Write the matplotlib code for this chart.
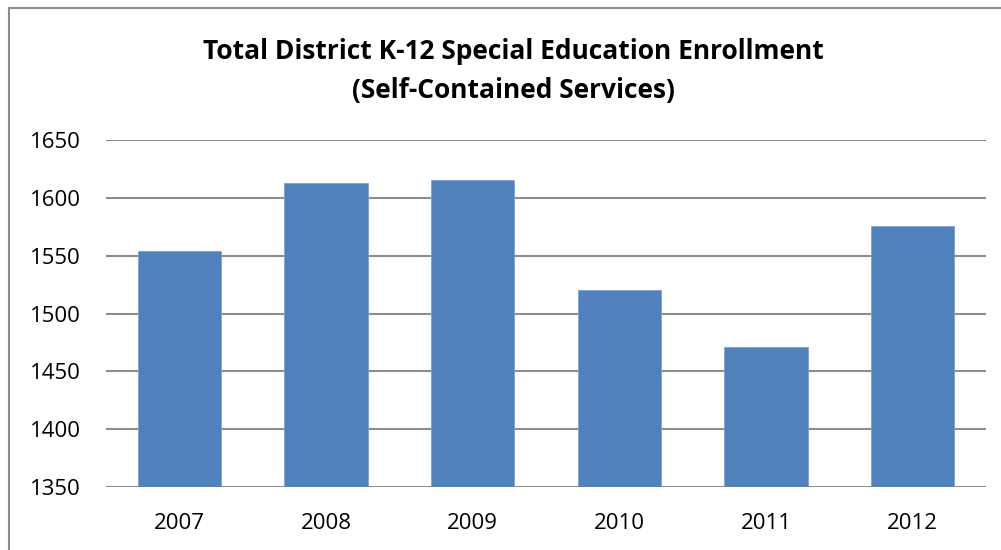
import matplotlib
matplotlib.use("Agg")
import matplotlib.pyplot as plt
from matplotlib.patches import Rectangle

years = ["2007", "2008", "2009", "2010", "2011", "2012"]
enrollment = [1554, 1613, 1615, 1520, 1471, 1576]
yticks = [1350, 1400, 1450, 1500, 1550, 1600, 1650]
title = "Total District K-12 Special Education Enrollment\n(Self-Contained Services)"

plt.rcParams['font.family'] = ['Open Sans', 'DejaVu Sans']

fig = plt.figure(figsize=(10.01, 5.5), dpi=100)
fig.patches.append(Rectangle((9/1001, -0.1), 1.2, 1 - 8/550 + 0.1, transform=fig.transFigure,
                             fill=False, edgecolor='#8c8c8c', linewidth=1.5))

ax = fig.add_axes([106/1001, 1 - 487/550, 880/1001, 347/550])
x = list(range(len(years)))
ax.bar(x, enrollment, width=0.57, color='#4F81BD', edgecolor='#7da3d3', linewidth=0.6, zorder=3, bottom=0)
ax.set_ylim(1350, 1650)
ax.set_xlim(-0.5, len(years) - 0.5)
ax.set_yticks(yticks)
ax.set_xticks(x)
ax.set_xticklabels(years)
ax.yaxis.grid(True, color='#8c8c8c', linewidth=1.5, zorder=0)
ax.set_axisbelow(True)
for s in ax.spines.values():
    s.set_visible(False)
ax.tick_params(axis='both', length=0, labelsize=16, colors='black')
ax.tick_params(axis='y', pad=18)
ax.tick_params(axis='x', pad=18.5)

fig.text(0.513, 1 - 71/550, title, ha='center', va='center', fontsize=19,
         fontweight='bold', linespacing=1.55)

fig.savefig("out.png", dpi=100)
